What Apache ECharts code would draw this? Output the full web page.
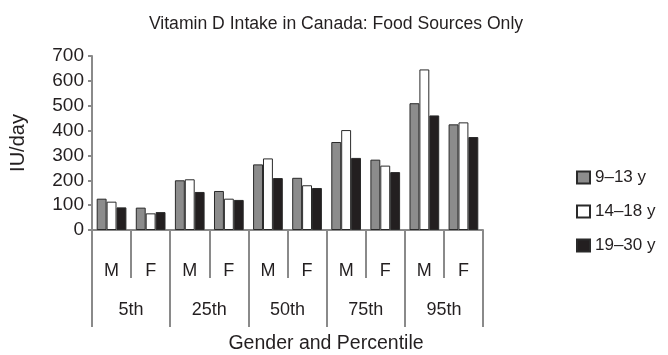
<!DOCTYPE html>
<html>
<head>
<meta charset="utf-8">
<script src="https://cdn.jsdelivr.net/npm/echarts@6/dist/echarts.min.js"></script>
<style>html,body{margin:0;padding:0;background:#fff}#c{width:668px;height:355px}</style>
</head>
<body>
<div id="c"></div>
<script>
const genders = ['M','F','M','F','M','F','M','F','M','F'];
const percentiles = ['5th','25th','50th','75th','95th'];
const seriesNames = ['9\u201313 y','14\u201318 y','19\u201330 y'];
const age9to13 = [126, 90, 200, 157, 264, 210, 354, 283, 510, 425];
const age14to18 = [114, 67, 204, 126, 288, 180, 402, 259, 646, 433];
const age19to30 = [91, 72, 153, 121, 209, 169, 290, 233, 461, 374];
const yTicks = [0, 100, 200, 300, 400, 500, 600, 700];

const fills = ['#8c8c8c', '#ffffff', '#231f20'];
const font = 'Liberation Sans, Arial, sans-serif';
const txt = '#231f20';
const axisCol = '#8a8a8a';

const chart = echarts.init(document.getElementById('c'));
const dataSets = [age9to13, age14to18, age19to30];
chart.setOption({
  animation: false,
  title: {
    text: 'Vitamin D Intake in Canada: Food Sources Only',
    left: 331, top: 10, textAlign: 'center',
    textStyle: {fontFamily: font, fontSize: 17.6, fontWeight: 'normal', color: txt}
  },
  graphic: [{
    type: 'text', x: 326, y: 344,
    style: {text: 'Gender and Percentile', font: '19.5px ' + font, fill: txt,
      textAlign: 'center', textVerticalAlign: 'middle'}
  }],
  legend: {
    orient: 'vertical', left: 571, top: 164,
    itemWidth: 13, itemHeight: 12, itemGap: 17, icon: 'rect',
    textStyle: {fontFamily: font, fontSize: 17, color: txt},
    data: seriesNames
  },
  grid: {left: 89, right: 185, top: 56, bottom: 125, containLabel: false},
  xAxis: [{
    type: 'category', data: genders, position: 'bottom',
    axisLine: {lineStyle: {color: axisCol, width: 2}},
    axisTick: {show: true, length: 48, alignWithLabel: false, lineStyle: {color: axisCol, width: 2}},
    axisLabel: {margin: 32, fontFamily: font, fontSize: 18, color: txt},
    boundaryGap: true
  }, {
    type: 'category', data: percentiles, position: 'bottom',
    axisLine: {show: false},
    axisTick: {show: true, length: 97, lineStyle: {color: axisCol, width: 2}},
    axisLabel: {margin: 71, fontFamily: font, fontSize: 18, color: txt}
  }],
  yAxis: {
    type: 'value', min: 0, max: 700, interval: 100,
    axisLine: {show: true, lineStyle: {color: axisCol, width: 2}},
    axisTick: {show: true, length: 4, lineStyle: {color: axisCol, width: 2}},
    splitLine: {show: false},
    axisLabel: {margin: 8, fontFamily: font, fontSize: 19, color: txt,
      formatter: v => yTicks.includes(v) ? String(v) : ''},
    name: 'IU/day', nameLocation: 'middle', nameRotate: 90, nameGap: 64,
    nameTextStyle: {fontFamily: font, fontSize: 20, color: txt}
  },
  series: seriesNames.map((n, i) => ({
    name: n, type: 'bar', xAxisIndex: 0, data: dataSets[i],
    barGap: '0%', barCategoryGap: '24%',
    itemStyle: {color: fills[i], borderColor: '#2a2a2a', borderWidth: 1}
  }))
});
</script>
</body>
</html>
